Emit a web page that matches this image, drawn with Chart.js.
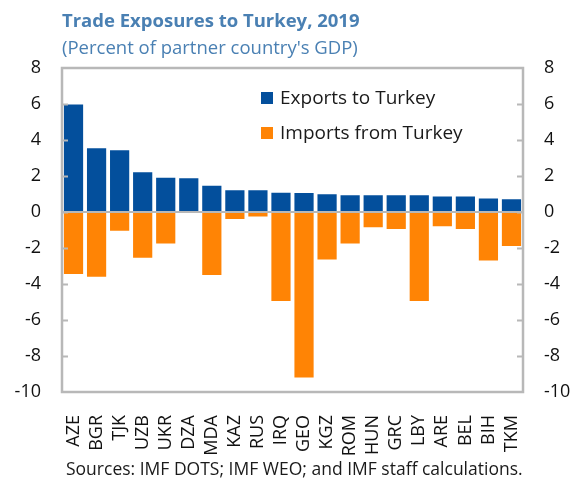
<!DOCTYPE html>
<html>
<head>
<meta charset="utf-8">
<script src="https://cdn.jsdelivr.net/npm/chart.js@4"></script>
<style>
	html, body { margin: 0; padding: 0; background: #fff; }
	#wrap { width: 576px; height: 483px; position: relative; }
</style>
</head>
<body>
<div id="wrap"><canvas id="tradeChart" width="576" height="483"></canvas></div>
<script>
const countries = ['AZE', 'BGR', 'TJK', 'UZB', 'UKR', 'DZA', 'MDA', 'KAZ', 'RUS', 'IRQ', 'GEO', 'KGZ', 'ROM', 'HUN', 'GRC', 'LBY', 'ARE', 'BEL', 'BIH', 'TKM'];
const exportsToTurkey = [6.03, 3.6, 3.49, 2.26, 1.96, 1.93, 1.52, 1.26, 1.26, 1.13, 1.11, 1.04, 0.98, 0.98, 0.98, 0.98, 0.92, 0.92, 0.8, 0.76];
const importsFromTurkey = [-3.5, -3.65, -1.1, -2.6, -1.8, 0, -3.55, -0.45, -0.3, -5.0, -9.25, -2.7, -1.8, -0.9, -1.0, -5.0, -0.85, -1.0, -2.75, -1.95];
const seriesNames = ['Exports to Turkey', 'Imports from Turkey'];
const yMin = -10, yMax = 8, yStep = 2;
const sourceNote = 'Sources: IMF DOTS; IMF WEO; and IMF staff calculations.';

const FONT = "'Open Sans', 'Noto Sans', sans-serif";
const BLUE = '#034f9c';
const ORANGE = '#ff8405';
const FRAME = '#b8b8b8';
const TITLE_COLOR = '#4a80b3';

// frame, inward ticks, zero line, legend and footer
const decorations = {
	id: 'decorations',
	afterDatasetsDraw(chart) {
		const { ctx, chartArea: a } = chart;
		const y = chart.scales.y;
		ctx.save();
		ctx.strokeStyle = FRAME;
		ctx.lineWidth = 2;
		ctx.beginPath();
		ctx.moveTo(a.left, y.getPixelForValue(0));
		ctx.lineTo(a.right, y.getPixelForValue(0));
		ctx.stroke();
		for (let v = yMin + yStep; v < yMax; v += yStep) {
			const py = Math.round(y.getPixelForValue(v)) + 0.5;
			ctx.beginPath();
			ctx.moveTo(a.left, py); ctx.lineTo(a.left + 6, py);
			ctx.moveTo(a.right - 6, py); ctx.lineTo(a.right, py);
			ctx.stroke();
		}
		ctx.lineWidth = 2.5;
		ctx.strokeRect(a.left, a.top, a.right - a.left, a.bottom - a.top);

		// legend inside plot
		const colors = [BLUE, ORANGE];
		ctx.font = '19px ' + FONT;
		ctx.textBaseline = 'middle';
		ctx.textAlign = 'left';
		seriesNames.forEach((name, i) => {
			const cy = 98 + i * 35;
			ctx.fillStyle = colors[i];
			ctx.fillRect(261, cy - 6, 12, 12);
			ctx.fillStyle = '#1a1a1a';
			ctx.fillText(name, 280, cy + 1);
		});

		ctx.font = '17.5px ' + FONT;
		ctx.fillStyle = '#1a1a1a';
		ctx.fillText(sourceNote, 66, 470);
		ctx.restore();
	},
};

const tickFont = { family: FONT, size: 18 };

new Chart(document.getElementById('tradeChart'), {
	type: 'bar',
	data: {
		labels: countries,
		datasets: [
			{ label: seriesNames[0], data: exportsToTurkey, backgroundColor: BLUE, borderColor: '#fff', borderWidth: 1 },
			{ label: seriesNames[1], data: importsFromTurkey, backgroundColor: ORANGE, borderColor: '#fff', borderWidth: 1 },
		],
	},
	options: {
		responsive: false,
		animation: false,
		layout: { padding: 0 },
		datasets: { bar: { categoryPercentage: 0.92, barPercentage: 1 } },
		plugins: {
			legend: { display: false },
			tooltip: { enabled: false },
			title: {
				display: true,
				text: 'Trade Exposures to Turkey, 2019',
				align: 'start',
				fullSize: false,
				color: TITLE_COLOR,
				font: { family: FONT, size: 18.5, weight: 'bold', lineHeight: 1.2 },
				padding: { top: 11, bottom: 3 },
			},
			subtitle: {
				display: true,
				text: "(Percent of partner country's GDP)",
				align: 'start',
				fullSize: false,
				color: TITLE_COLOR,
				font: { family: FONT, size: 18.5, lineHeight: 1.2 },
				padding: { top: 1, bottom: 8.6 },
			},
		},
		scales: {
			x: {
				stacked: true,
				grid: { display: false },
				border: { display: false },
				ticks: { color: '#111', font: tickFont, minRotation: 90, maxRotation: 90, padding: 15, autoSkip: false },
				afterFit: (s) => { s.height = 91; },
			},
			y: {
				stacked: true,
				min: yMin, max: yMax,
				grid: { display: false, drawTicks: false },
				border: { display: false },
				ticks: { stepSize: yStep, color: '#111', font: tickFont, padding: 21 },
				afterFit: (s) => { s.width = 62; },
			},
			y2: {
				position: 'right',
				min: yMin, max: yMax,
				grid: { display: false, drawTicks: false },
				border: { display: false },
				ticks: { stepSize: yStep, color: '#111', font: tickFont, padding: 21 },
				afterFit: (s) => { s.width = 53; },
			},
		},
	},
	plugins: [decorations],
});
</script>
</body>
</html>
